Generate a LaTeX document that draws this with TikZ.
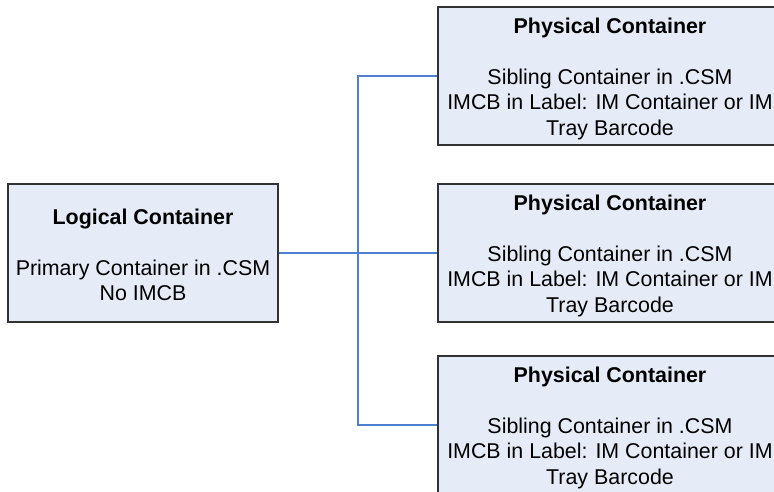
\documentclass[tikz,border=0pt]{standalone}
\usepackage{fontspec}
\setmainfont{Liberation Sans}
\definecolor{boxfill}{RGB}{230,236,247}
\definecolor{boxline}{RGB}{50,50,50}
\definecolor{linkblue}{RGB}{79,129,210}
\begin{document}
\begin{tikzpicture}[x=1pt,y=1pt,
  box/.style={draw=boxline, fill=boxfill, line width=1.2pt, minimum width=270pt,
    minimum height=138pt, inner sep=0pt},
  wide/.style={box, minimum width=344pt},
  boxtext/.style={align=center, inner sep=0pt, font=\fontsize{21.4}{25.5}\selectfont},
  link/.style={draw=linkblue, line width=1.3pt}]
\useasboundingbox (0,0) rectangle (774,491);
\clip (0,0) rectangle (774,491);
\node[box] (L) at (143,238) {};
\node[boxtext] (Lt) at ([yshift=-2pt]L.center) {\textbf{Logical Container}\\[25.5pt]Primary Container in .CSM\\No IMCB};
\node[wide] (P1) at (610,415) {};
\node[wide] (P2) at (610,238) {};
\node[wide] (P3) at (610,66) {};
\node[boxtext] (P1t) at ([yshift=-2.5pt]P1.center) {\textbf{Physical Container}\\[25.5pt]Sibling Container in .CSM\\IMCB in Label: IM Container or IM\\Tray Barcode};
\node[boxtext] (P2t) at ([yshift=-2.5pt]P2.center) {\textbf{Physical Container}\\[25.5pt]Sibling Container in .CSM\\IMCB in Label: IM Container or IM\\Tray Barcode};
\node[boxtext] (P3t) at ([yshift=-2.5pt]P3.center) {\textbf{Physical Container}\\[25.5pt]Sibling Container in .CSM\\IMCB in Label: IM Container or IM\\Tray Barcode};
\coordinate (J) at (358,238);
\draw[link] (L.east) -- (P2.west);
\draw[link] (P1.west) -| (J) |- (P3.west);
\end{tikzpicture}
\end{document}
